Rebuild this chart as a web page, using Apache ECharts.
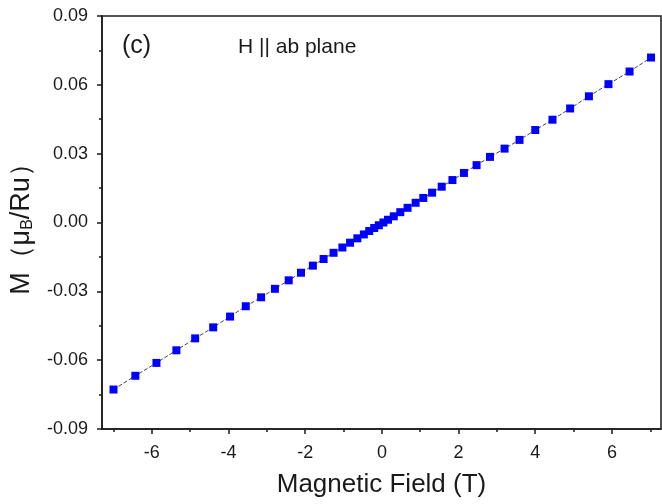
<!DOCTYPE html>
<html>
<head>
<meta charset="utf-8">
<script src="https://cdn.jsdelivr.net/npm/echarts@6/dist/echarts.min.js"></script>
<style>
  html, body { margin: 0; padding: 0; background: #fff; }
  #chart { width: 662px; height: 504px; }
</style>
</head>
<body>
<div id="chart"></div>
<script>
// field (T) and magnetization (muB/Ru)
const field = [
  -7.00, -6.43, -5.88, -5.36, -4.87, -4.40, -3.96, -3.55, -3.15, -2.79, -2.43,
  -2.11, -1.80, -1.52, -1.26, -1.03, -0.83, -0.64, -0.47, -0.33, -0.20, -0.08,
  0.04, 0.16, 0.31, 0.48, 0.67, 0.88, 1.08, 1.31, 1.56, 1.84, 2.14,
  2.47, 2.82, 3.20, 3.59, 4.00, 4.45, 4.91, 5.40, 5.91, 6.46, 7.02
]
const moment = [
  -0.0728, -0.0668, -0.0612, -0.0557, -0.0505, -0.0457, -0.0410, -0.0365, -0.0326, -0.0289, -0.0252,
  -0.0219, -0.0188, -0.0159, -0.0132, -0.0109, -0.0088, -0.0069, -0.0052, -0.0037, -0.0024, -0.0012,
  0.0000, 0.0012, 0.0027, 0.0045, 0.0064, 0.0086, 0.0107, 0.0130, 0.0156, 0.0185, 0.0216,
  0.0250, 0.0286, 0.0322, 0.0360, 0.0403, 0.0448, 0.0497, 0.0550, 0.0603, 0.0658, 0.0719
]
const xMajorTicks = [-6, -4, -2, 0, 2, 4, 6]
const xMinorTicks = [-7, -5, -3, -1, 1, 3, 5, 7]

const font = '"Liberation Sans", Arial, sans-serif'
const ink = '#1a1a1a'

const chart = echarts.init(document.getElementById('chart'), null, { renderer: 'canvas' })

const xBase = {
  type: 'value',
  position: 'bottom',
  min: -7.3,
  max: 7.28,
  splitLine: { show: false }
}

chart.setOption({
  animation: false,
  backgroundColor: '#fff',
  grid: {
    left: 102, right: 1, top: 16, bottom: 75,
    show: true,
    borderColor: ink,
    borderWidth: 1.5,
    backgroundColor: 'transparent'
  },
  xAxis: [
    {
      ...xBase,
      name: 'Magnetic Field (T)',
      nameLocation: 'middle',
      nameGap: 43,
      nameTextStyle: { fontFamily: font, fontSize: 26, color: ink },
      axisLine: { show: true, onZero: false, lineStyle: { color: ink, width: 1.5 } },
      axisTick: { show: true, inside: false, length: 5, customValues: xMajorTicks, lineStyle: { color: ink, width: 1.5 } },
      axisLabel: { customValues: xMajorTicks, margin: 15, fontFamily: font, fontSize: 18, color: ink }
    },
    {
      ...xBase,
      axisLine: { show: false, onZero: false },
      axisTick: { show: true, inside: false, length: 3, customValues: xMinorTicks, lineStyle: { color: ink, width: 1.5 } },
      axisLabel: { show: false }
    }
  ],
  yAxis: {
    type: 'value',
    min: -0.09,
    max: 0.09,
    interval: 0.03,
    name: 'M（μ{sub|B}/Ru）',
    nameLocation: 'middle',
    nameGap: 66,
    nameRotate: 90,
    nameTextStyle: {
      fontFamily: font, fontSize: 27, color: ink,
      rich: {
        sub: { fontFamily: font, fontSize: 16, color: ink, padding: [12, 0, 0, 0] }
      }
    },
    axisLine: { show: true, onZero: false, lineStyle: { color: ink, width: 1.5 } },
    axisTick: { show: true, inside: false, length: 5, lineStyle: { color: ink, width: 1.5 } },
    minorTick: { show: true, splitNumber: 2, length: 3, lineStyle: { color: ink, width: 1.5 } },
    splitLine: { show: false },
    axisLabel: {
      margin: 14,
      fontFamily: font, fontSize: 18, color: ink,
      formatter: (v) => (Math.abs(v) < 1e-9 ? 0 : v).toFixed(2)
    }
  },
  graphic: [
    { type: 'text', left: 122, top: 34, style: { text: '(c)', font: '25px ' + font, fill: ink } },
    { type: 'text', left: 238, top: 37, style: { text: 'H || ab plane', font: '21px ' + font, fill: ink } }
  ],
  series: [
    {
      type: 'line',
      xAxisIndex: 0,
      data: field.map((h, i) => [h, moment[i]]),
      symbol: 'rect',
      symbolSize: 8,
      showAllSymbol: true,
      itemStyle: { color: '#0000ff' },
      lineStyle: { color: '#444', width: 1, type: [4, 2] },
      z: 3
    }
  ]
})
</script>
</body>
</html>
